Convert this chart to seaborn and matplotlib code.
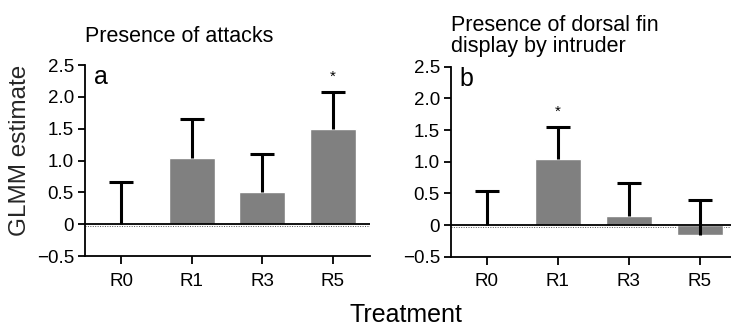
"""
GLMM estimates per treatment: presence of attacks (a) and
presence of dorsal fin display by intruder (b).
"""

import numpy as np
import pandas as pd
import matplotlib
matplotlib.use("Agg")
import matplotlib.pyplot as plt
import seaborn as sns

# data
treatments = ["R0", "R1", "R3", "R5"]
attack_est = [0.0, 1.04, 0.50, 1.49]
attack_se = [0.67, 0.61, 0.60, 0.59]
display_est = [0.0, 1.04, 0.14, -0.15]
display_se = [0.54, 0.51, 0.53, 0.54]
attack_sig = [False, False, False, True]
display_sig = [False, True, False, False]

panel_titles = ["Presence of attacks", "Presence of dorsal fin\ndisplay by intruder"]
panel_letters = ["a", "b"]

sns.set_theme(style="ticks")
plt.rcParams["font.family"] = ["Liberation Sans", "DejaVu Sans"]
plt.rcParams["axes.unicode_minus"] = True
plt.rcParams["text.color"] = "black"
plt.rcParams["xtick.labelcolor"] = "black"
plt.rcParams["ytick.labelcolor"] = "black"

fig = plt.figure(figsize=(7.31, 3.27), dpi=100)
ax_a = fig.add_axes([0.1163, 0.2171, 0.390, 0.584])
ax_b = fig.add_axes([0.617, 0.215, 0.383, 0.581])

panels = [
    (ax_a, attack_est, attack_se, attack_sig, (-0.51, 3.53), 16.5),
    (ax_b, display_est, display_se, display_sig, (-0.5, 3.44), 10.5),
]

for i, (ax, est, se, sig, xlim, pad) in enumerate(panels):
    df = pd.DataFrame({"treatment": treatments, "estimate": est, "se": se})
    sns.barplot(data=df, x="treatment", y="estimate", color="#808080",
                saturation=1, width=0.65, errorbar=None, ax=ax, zorder=2)
    x = np.arange(len(treatments))
    _, caps, _ = ax.errorbar(x, df["estimate"], yerr=[np.zeros(len(se)), df["se"]],
                             fmt="none", ecolor="black", elinewidth=2.2,
                             capsize=8.5, capthick=2.2, zorder=3)
    # only the upper half of each error bar is shown
    caps[0].set_visible(False)
    # asterisks above significant bars
    for xi, e, s, flag in zip(x, est, se, sig):
        if flag:
            ax.text(xi, e + s + 0.12, "*", ha="center", va="bottom", fontsize=11)

    ax.axhline(0, color="black", lw=1.3, zorder=4)
    ax.axhline(-0.025, color="#555555", lw=0.7, ls=(0, (1, 1.5)), zorder=1)

    ax.set_xlim(*xlim)
    ax.set_ylim(-0.5, 2.5)
    ax.set_yticks([-0.5, 0, 0.5, 1.0, 1.5, 2.0, 2.5])
    ax.set_yticklabels(["\u22120.5", "0", "0.5", "1.0", "1.5", "2.0", "2.5"])
    ax.tick_params(axis="both", labelsize=13.5, width=1.3, length=5, color="black",
                   pad=3)
    ax.tick_params(axis="x", length=6, pad=6)
    for side in ["left", "bottom"]:
        ax.spines[side].set_linewidth(1.3)
        ax.spines[side].set_color("black")
    sns.despine(ax=ax)
    ax.set_xlabel("")
    ax.set_ylabel("")
    ax.set_title(panel_titles[i], loc="left", fontsize=15.5, pad=pad,
                 linespacing=1.0)
    ax.text(0.03, 1.0, panel_letters[i], transform=ax.transAxes,
            ha="left", va="top", fontsize=18)

ax_a.set_ylabel("GLMM estimate", fontsize=17.5)
ax_a.yaxis.set_label_coords(-0.19, 0.555)
fig.text(0.555, 0.0153, "Treatment", ha="center", va="baseline", fontsize=18)

fig.savefig("out.png", dpi=100)
plt.close(fig)
